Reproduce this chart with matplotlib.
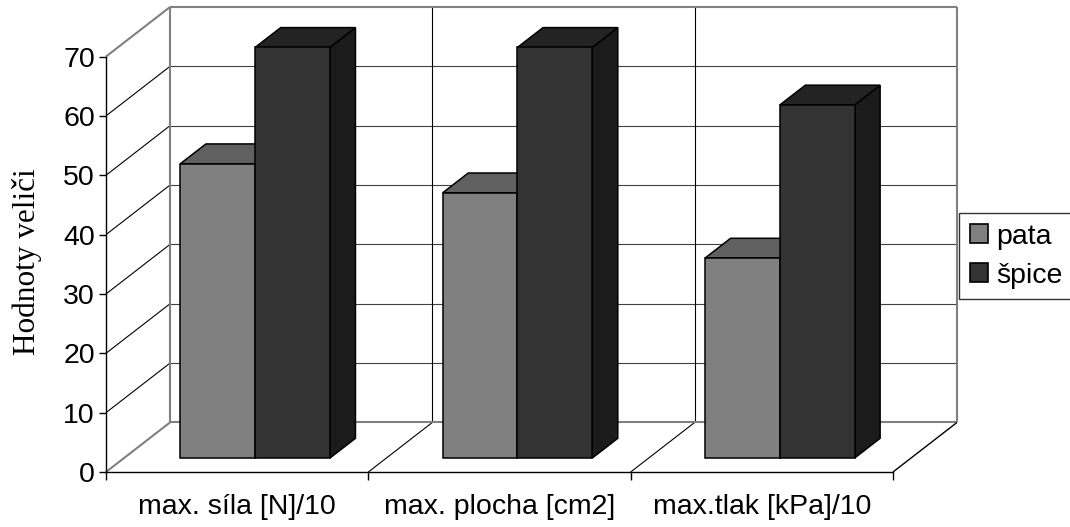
import matplotlib.pyplot as plt
from matplotlib.patches import Polygon, Patch

plt.rcParams['font.family'] = ['Liberation Sans', 'DejaVu Sans']

categories = ['max. síla [N]/10', 'max. plocha [cm2]', 'max.tlak [kPa]/10']
series_names = ['pata', 'špice']
pata = [49.6, 44.7, 33.7]
spice = [69.2, 69.2, 59.5]
yticks = [0, 10, 20, 30, 40, 50, 60, 70]

# colours: front, top, side
pata_cols = ('#808080', '#606060', '#404040')
spice_cols = ('#333333', '#232323', '#1b1b1b')

W, H = 1070, 527
fig = plt.figure(figsize=(W / 100, H / 100), dpi=100)
ax = fig.add_axes([106 / W, 55 / H, 851 / W, 465 / H])

# oblique depth offset (in data units)
DX = 64 / 262.3
DY = 8.35
ymax = yticks[-1]
ncat = len(categories)
ax.set_xlim(0, ncat + DX)
ax.set_ylim(0, ymax + DY)


def P(x, v, d):
    return (x + d * DX, v + d * DY)


def seg(p, q, color='black', lw=0.8):
    ax.plot([p[0], q[0]], [p[1], q[1]], color=color, lw=lw,
            clip_on=False, solid_capstyle='butt', zorder=1)


gray = '#808080'
# back wall + left wall gridlines
for v in yticks[1:-1]:
    seg(P(0, v, 0), P(0, v, 1))
    seg(P(0, v, 1), P(ncat, v, 1), '#404040')
for i in range(1, ncat):
    seg(P(i, 0, 1), P(i, ymax, 1))
    seg(P(i, 0, 0), P(i, 0, 1))
# wall borders
seg(P(0, 0, 1), P(0, ymax, 1), gray, 1.5)
seg(P(ncat, 0, 1), P(ncat, ymax, 1), gray, 1.5)
seg(P(0, ymax, 1), P(ncat, ymax, 1), gray, 1.5)
seg(P(0, 0, 1), P(ncat, 0, 1), gray, 1.5)
seg(P(0, 0, 0), P(0, 0, 1), gray, 1.5)
seg(P(0, ymax, 0), P(0, ymax, 1), gray, 1.5)
seg(P(ncat, 0, 0), P(ncat, 0, 1), 'black', 1)

# bars
f1, f2 = 0.28, 0.68
w = 0.285
starts = [0.215, 0.5]
for i in range(ncat):
    for j, (vals, cols) in enumerate([(pata, pata_cols), (spice, spice_cols)]):
        x0 = i + starts[j]
        x1 = x0 + w
        v = vals[i]
        side = [P(x1, 0, f1), P(x1, 0, f2), P(x1, v, f2), P(x1, v, f1)]
        top = [P(x0, v, f1), P(x1, v, f1), P(x1, v, f2), P(x0, v, f2)]
        front = [P(x0, 0, f1), P(x1, 0, f1), P(x1, v, f1), P(x0, v, f1)]
        for pts, c in [(side, cols[2]), (top, cols[1]), (front, cols[0])]:
            ax.add_patch(Polygon(pts, closed=True, facecolor=c, edgecolor='black',
                                 lw=1.1, joinstyle='miter', zorder=3))

for s in ['top', 'right']:
    ax.spines[s].set_visible(False)
ax.spines['left'].set_bounds(0, ymax)
ax.spines['bottom'].set_bounds(0, ncat)
for s in ['left', 'bottom']:
    ax.spines[s].set_linewidth(1)
    ax.spines[s].set_color('black')

fs = 20.5
ax.set_yticks(yticks)
ax.tick_params(axis='y', direction='out', length=5, width=1, pad=3, labelsize=fs)
ax.set_xticks([i + 0.5 for i in range(ncat)])
ax.set_xticklabels(categories)
ax.set_xticks(range(ncat + 1), minor=True)
ax.tick_params(axis='x', which='major', length=0, pad=16, labelsize=fs)
ax.tick_params(axis='x', which='minor', direction='out', length=6, width=1)

ax.set_ylabel('Hodnoty veliči', family=['Liberation Serif', 'DejaVu Serif'], fontsize=22.5)
ax.yaxis.set_label_coords(-0.075, 0.452)

handles = [Patch(facecolor=pata_cols[0], edgecolor='black', lw=1.2),
           Patch(facecolor=spice_cols[0], edgecolor='black', lw=1.2)]
leg = fig.legend(handles, series_names, loc='upper left',
                 bbox_to_anchor=(959 / W, 1 - 213 / H), bbox_transform=fig.transFigure,
                 borderaxespad=0, fontsize=fs, frameon=True, fancybox=False,
                 handlelength=0.64, handleheight=0.64, handletextpad=0.3,
                 borderpad=0.38, labelspacing=0.45)
leg.get_frame().set_edgecolor('black')
leg.get_frame().set_linewidth(1)

fig.savefig('out.png', dpi=100)
